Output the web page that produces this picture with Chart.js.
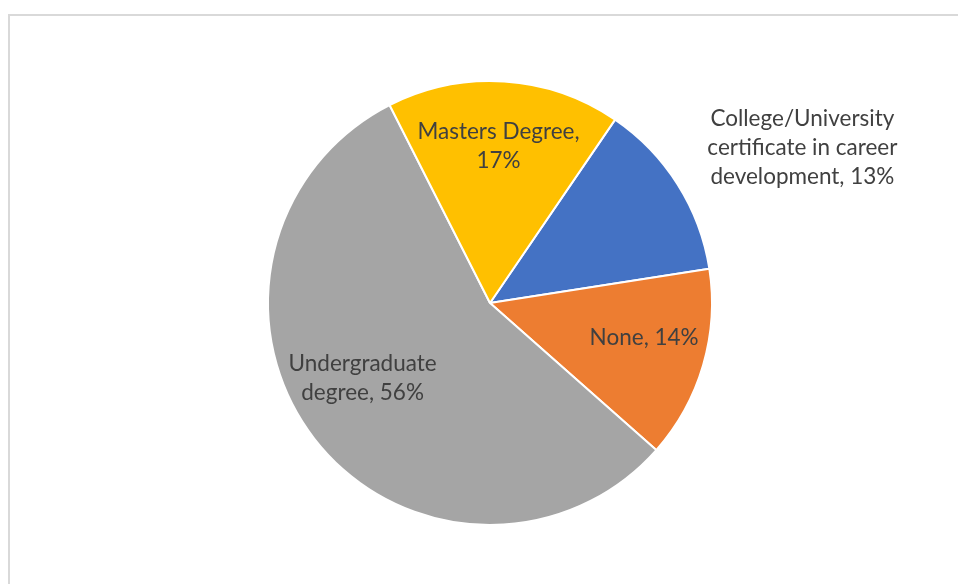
<!DOCTYPE html>
<html>
<head>
<meta charset="utf-8">
<script src="https://cdn.jsdelivr.net/npm/chart.js@4"></script>
<style>
  html, body { margin: 0; padding: 0; background: #fff; }
  #wrap { width: 958px; height: 584px; position: relative; }
</style>
</head>
<body>
<div id="wrap"><canvas id="pieChart"></canvas></div>
<script>
// categories and shares (%)
const categories = [
    'College/University certificate in career development',
    'None',
    'Undergraduate degree',
    'Masters Degree'
];
const shares = [13, 14, 56, 17];
// how each data label is broken over lines ({v} = value)
const labelLines = [
    ['College/University', 'certificate in career', 'development, {v}%'],
    ['None, {v}%'],
    ['Undergraduate', 'degree, {v}%'],
    ['Masters Degree,', '{v}%']
];
const sliceColors = ['#4472C4', '#ED7D31', '#A5A5A5', '#FFC000'];

// thin grey frame around the chart area
const framePlugin = {
    id: 'frame',
    beforeDraw(chart) {
        const ctx = chart.ctx;
        ctx.save();
        ctx.strokeStyle = '#d9d9d9';
        ctx.lineWidth = 2;
        ctx.strokeRect(9, 15, 1200, 1200);
        ctx.restore();
    }
};

// data labels: placed along each slice's mid angle
const sliceLabels = {
    id: 'sliceLabels',
    afterDatasetsDraw(chart, args, opts) {
        const ctx = chart.ctx;
        const meta = chart.getDatasetMeta(0);
        ctx.save();
        ctx.font = opts.font;
        ctx.fillStyle = opts.color;
        ctx.textAlign = 'center';
        ctx.textBaseline = 'middle';
        meta.data.forEach((arc, i) => {
            const mid = (arc.startAngle + arc.endAngle) / 2 + opts.shift[i] * Math.PI / 180;
            const r = arc.outerRadius * opts.dist[i];
            const cx = arc.x + Math.cos(mid) * r;
            const cy = arc.y + Math.sin(mid) * r;
            const lines = labelLines[i].map(s => s.replace('{v}', shares[i]));
            const top = cy - (lines.length - 1) * opts.lineHeight / 2;
            lines.forEach((t, k) => ctx.fillText(t, cx, top + k * opts.lineHeight));
        });
        ctx.restore();
    }
};

new Chart(document.getElementById('pieChart'), {
    type: 'pie',
    data: {
        labels: categories,
        datasets: [{
            data: shares,
            backgroundColor: sliceColors,
            borderColor: '#ffffff',
            borderWidth: 2
        }]
    },
    options: {
        responsive: true,
        maintainAspectRatio: false,
        animation: false,
        rotation: 34.3,
        layout: { padding: { top: 80, bottom: 58, left: 22, right: 0 } },
        plugins: {
            legend: { display: false },
            tooltip: { enabled: false },
            sliceLabels: {
                font: '22.5px Lato',
                color: '#404040',
                lineHeight: 29,
                dist: [1.571, 0.712, 0.666, 0.708],
                shift: [5.9, -3.5, 7.2, -0.6]
            }
        }
    },
    plugins: [framePlugin, sliceLabels]
});
</script>
</body>
</html>
